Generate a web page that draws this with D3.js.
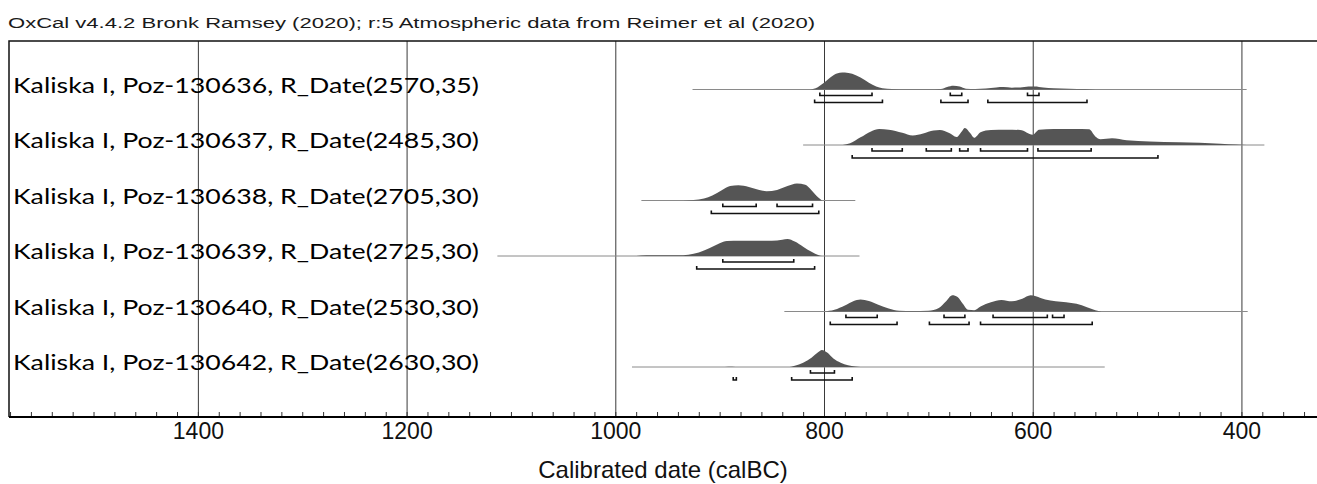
<!DOCTYPE html>
<html>
<head lang="en">
  <meta charset="UTF-8">
  <title>OxCal multiplot</title>
</head>
<style>
  body { margin: 0; background: #fff; }
  #chart text { fill: #111; }
  #chart .grid line { stroke: #3a3a3a; stroke-width: 1; }
  #chart .minor line { stroke: #333; stroke-width: 1; }
  #chart .range { fill: none; stroke: #111; stroke-width: 1.6; }
  #chart .span { stroke: #8a8a8a; stroke-width: 1; }
  #chart .dist { fill: #555; }
</style>
<body>

<svg id="chart" width="1317" height="484"></svg>

<script src="https://cdn.jsdelivr.net/npm/d3@7"></script>
<script>
  var labels = [
    'Kaliska I, Poz-130636, R_Date(2570,35)',
    'Kaliska I, Poz-130637, R_Date(2485,30)',
    'Kaliska I, Poz-130638, R_Date(2705,30)',
    'Kaliska I, Poz-130639, R_Date(2725,30)',
    'Kaliska I, Poz-130640, R_Date(2530,30)',
    'Kaliska I, Poz-130642, R_Date(2630,30)'
  ];

  // extent of the thin grey line under each distribution (calBC)
  var spans = [[926, 395], [820, 378], [975, 770], [1113, 766], [838, 394], [984, 531]];

  // probability curves, [calBC, relative density]
  var dist1 = [[815,0],[808,8],[800,40],[792,80],[785,98],[780,100],[773,92],[765,70],[757,40],[750,18],[744,8],[735,3],[720,1],[700,1],[688,3],[682,15],[676,22],[670,18],[664,5],[655,3],[645,6],[635,12],[628,14],[620,11],[612,12],[604,18],[598,18],[590,12],[580,8],[565,5],[550,3],[540,0]];
  var dist2 = [[782,0],[775,10],[765,45],[755,80],[747,94],[738,90],[725,72],[715,56],[705,68],[695,85],[689,88],[680,70],[673,47],[668,80],[665,100],[660,70],[656,42],[650,75],[640,88],[625,90],[612,88],[600,60],[594,90],[580,94],[560,94],[546,92],[540,50],[535,34],[524,40],[510,28],[488,20],[460,16],[440,13],[420,8],[405,3],[395,0]];
  var dist3 = [[935,0],[925,3],[915,12],[907,30],[898,60],[890,85],[882,90],[872,80],[862,62],[855,55],[845,62],[835,85],[826,100],[818,92],[812,60],[806,20],[802,0]];
  var dist4 = [[980,0],[970,4],[955,5],[940,5],[930,8],[920,20],[910,45],[900,75],[893,88],[880,90],[865,90],[850,90],[840,96],[835,100],[828,85],[820,55],[812,25],[805,5],[802,0]];
  var dist5 = [[800,0],[790,10],[780,35],[772,60],[765,70],[757,62],[748,40],[738,18],[728,5],[715,3],[700,4],[690,20],[683,60],[677,95],[672,85],[667,45],[662,10],[656,8],[650,30],[640,55],[630,68],[620,60],[610,75],[602,95],[597,90],[588,70],[578,60],[568,55],[558,45],[548,25],[540,8],[534,0]];
  var dist6 = [[895,0],[888,2],[882,0],[835,0],[828,8],[820,25],[812,55],[806,85],[802,100],[797,85],[791,50],[784,25],[777,10],[770,3],[765,0]];
  var dists = [dist1, dist2, dist3, dist4, dist5, dist6];

  // 68.2% and 95.4% ranges (calBC)
  var r68 = [
    [[804,754],[679,668],[605,594]],
    [[754,725],[702,678],[670,662],[650,605],[595,544]],
    [[897,865],[845,811]],
    [[897,829]],
    [[779,749],[685,665],[638,586],[581,570]],
    [[813,790]]
  ];
  var r95 = [
    [[809,744],[688,662],[643,548]],
    [[773,480]],
    [[908,805]],
    [[922,809]],
    [[794,730],[699,661],[650,543]],
    [[887,884],[831,773]]
  ];

  var majorTicks = [1400, 1200, 1000, 800, 600, 400];
  var minorTicks = d3.range(1580, 310, -20);

  var title = 'OxCal v4.4.2 Bronk Ramsey (2020); r:5 Atmospheric data from Reimer et al (2020)';
  var axisTitle = 'Calibrated date (calBC)';

  var plotLeft = 9, plotTop = 41, plotBottom = 417, plotRight = 1327;
  var peak = 17;

  var svg = d3.select('#chart');

  var x = d3.scaleLinear().domain([1581, 318]).range([plotLeft, plotRight]);
  var y = d3.scalePoint().domain(d3.range(labels.length)).range([89.5, 367]);
  var h = d3.scaleLinear().domain([0, 100]).range([0, peak]);

  svg.append('text')
    .attr('x', 8).attr('y', 28)
    .attr('textLength', 807).attr('lengthAdjust', 'spacingAndGlyphs')
    .style('font-family', 'Liberation Sans, Arial, sans-serif')
    .style('font-size', '15.5px')
    .style('fill', '#1a1a1a')
    .text(title);

  // grid lines + labels
  var grid = svg.append('g')
    .attr('class', 'grid')
    .attr('transform', 'translate(0,' + plotBottom + ')')
    .call(d3.axisBottom(x).tickValues(majorTicks).tickSize(-(plotBottom - plotTop)).tickPadding(6).tickFormat(d3.format('d')));
  grid.select('.domain').remove();
  grid.selectAll('text')
    .style('font-family', 'Liberation Sans, Arial, sans-serif')
    .style('font-size', '23px');

  var minor = svg.append('g')
    .attr('class', 'minor')
    .attr('transform', 'translate(0,' + plotBottom + ')')
    .call(d3.axisBottom(x).tickValues(minorTicks).tickSize(-5).tickFormat(''));
  minor.select('.domain').remove();

  var rows = svg.selectAll('g.row')
    .data(labels)
    .enter()
      .append('g')
      .attr('class', 'row')
      .attr('transform', function (d, i) { return 'translate(0,' + y(i) + ')'; });

  rows.append('line')
    .attr('class', 'span')
    .attr('x1', function (d, i) { return x(spans[i][0]); })
    .attr('x2', function (d, i) { return x(spans[i][1]); });

  var area = d3.area()
    .x(function (d) { return x(d[0]); })
    .y0(0)
    .y1(function (d) { return -h(d[1]); })
    .curve(d3.curveMonotoneX);

  rows.append('path')
    .attr('class', 'dist')
    .attr('d', function (d, i) { return area(dists[i]); });

  function bracket(r, off) {
    return 'M' + x(r[0]) + ',' + (off - 3) + 'V' + off + 'H' + x(r[1]) + 'V' + (off - 3);
  }

  rows.each(function (d, i) {
    var g = d3.select(this);
    g.selectAll('path.r68').data(r68[i]).enter().append('path')
      .attr('class', 'range r68').attr('d', function (r) { return bracket(r, 6); });
    g.selectAll('path.r95').data(r95[i]).enter().append('path')
      .attr('class', 'range r95').attr('d', function (r) { return bracket(r, 13); });
  });

  rows.append('text')
    .attr('x', 13).attr('y', 3)
    .attr('textLength', 466).attr('lengthAdjust', 'spacingAndGlyphs')
    .style('font-family', 'Lato, Carlito, sans-serif')
    .style('font-size', '22px')
    .style('fill', '#000')
    .text(function (d) { return d; });

  // frame
  svg.append('path')
    .attr('d', 'M' + plotLeft + ',' + plotBottom + 'V' + plotTop + 'H' + plotRight)
    .attr('fill', 'none').attr('stroke', '#111').attr('stroke-width', 1.5);
  svg.append('line')
    .attr('x1', plotLeft).attr('x2', plotRight).attr('y1', plotBottom).attr('y2', plotBottom)
    .attr('stroke', '#000').attr('stroke-width', 2);

  svg.append('text')
    .attr('x', 663).attr('y', 478)
    .attr('text-anchor', 'middle')
    .style('font-family', 'Liberation Sans, Arial, sans-serif')
    .style('font-size', '24px')
    .text(axisTitle);
</script>
</body>
</html>
